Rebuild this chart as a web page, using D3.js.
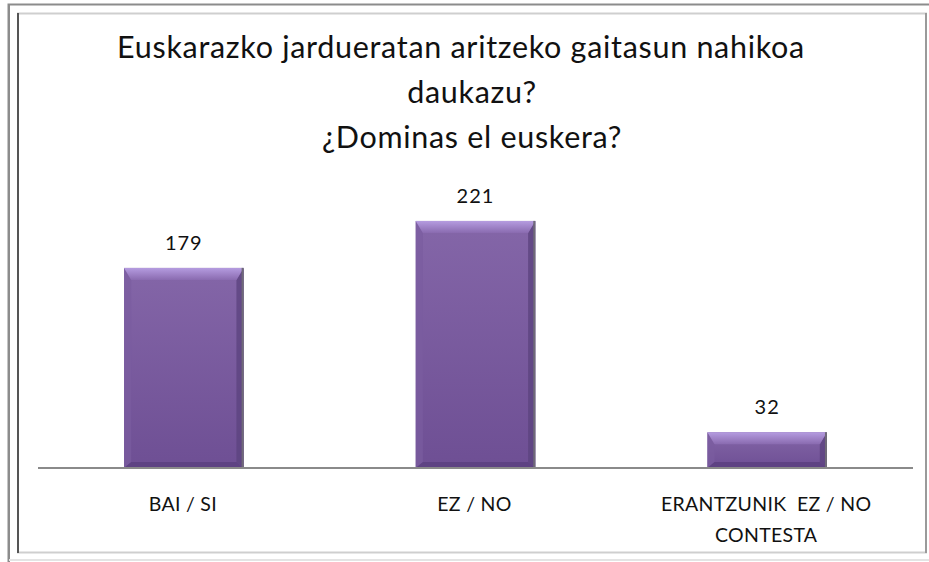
<!DOCTYPE html>
<html><head><meta charset="utf-8">
<script src="https://cdn.jsdelivr.net/npm/d3@7/dist/d3.min.js"></script>
<style>body{margin:0;background:#fff}svg{display:block}</style>
</head><body>
<svg id="c" width="929" height="562"></svg>
<script>
const categories = ["BAI / SI", "EZ / NO", "ERANTZUNIK  EZ / NO|CONTESTA"];
const values = [179, 221, 32];
const titleLines = ["Euskarazko jardueratan aritzeko gaitasun nahikoa", "daukazu?", "¿Dominas el euskera?"];

const svg = d3.select("#c");
const font = "Lato, 'Open Sans', sans-serif";

// frames
svg.append("rect").attr("x",8.5).attr("y",4.5).attr("width",940).attr("height",600).attr("fill","none").attr("stroke","#8c8c8c").attr("stroke-width",2);
svg.append("rect").attr("x",18).attr("y",13.5).attr("width",908).attr("height",539).attr("fill","#fff").attr("stroke","#cfcfcf").attr("stroke-width",2);
svg.append("line").attr("x1",18).attr("x2",18).attr("y1",13).attr("y2",553).attr("stroke","#555").attr("stroke-width",2);
svg.append("line").attr("x1",926).attr("x2",926).attr("y1",13).attr("y2",553).attr("stroke","#9a9a9a").attr("stroke-width",2);
svg.append("line").attr("x1",9).attr("x2",9).attr("y1",4).attr("y2",562).attr("stroke","#8c8c8c").attr("stroke-width",2);
svg.append("line").attr("x1",9).attr("x2",929).attr("y1",560).attr("y2",560).attr("stroke","#e4e4e4").attr("stroke-width",2);

const x = d3.scaleBand().domain(categories).range([38, 913]).paddingInner(0.59).paddingOuter(0.295);
const y = d3.scaleLinear().domain([0, 250]).range([468, 188.5]);

const defs = svg.append("defs");
const g1 = defs.append("linearGradient").attr("id","bar").attr("x1",0).attr("x2",0).attr("y1",0).attr("y2",1);
g1.append("stop").attr("offset","0%").attr("stop-color","#8466a8");
g1.append("stop").attr("offset","100%").attr("stop-color","#6e4f94");
const g2 = defs.append("linearGradient").attr("id","bev").attr("x1",0).attr("x2",0).attr("y1",0).attr("y2",1);
g2.append("stop").attr("offset","0%").attr("stop-color","#b59ce0");
g2.append("stop").attr("offset","100%").attr("stop-color","#8a6bb0");

const bars = svg.append("g").selectAll("g").data(categories).join("g");
bars.each(function(c, i){
  const g = d3.select(this);
  const x0 = x(c), w = x.bandwidth(), y0 = y(values[i]), y1 = y(0), h = y1 - y0;
  const b = Math.min(12, h/3);
  g.append("rect").attr("x",x0).attr("y",y0).attr("width",w).attr("height",h).attr("fill","url(#bar)");
  g.append("path").attr("d",`M${x0},${y0}L${x0+b*0.6},${y0+b}L${x0+b*0.6},${y1-b*0.5}L${x0},${y1}Z`).attr("fill","#7a5c9f").attr("opacity",0.7);
  g.append("path").attr("d",`M${x0+w},${y0}L${x0+w-b*0.6},${y0+b}L${x0+w-b*0.6},${y1-b*0.5}L${x0+w},${y1}Z`).attr("fill","#5d4480").attr("opacity",0.8);
  g.append("path").attr("d",`M${x0},${y1}L${x0+b*0.6},${y1-b*0.5}L${x0+w-b*0.6},${y1-b*0.5}L${x0+w},${y1}Z`).attr("fill","#5a3f7e").attr("opacity",0.8);
  g.append("path").attr("d",`M${x0},${y0}L${x0+w},${y0}L${x0+w-b*0.6},${y0+b}L${x0+b*0.6},${y0+b}Z`).attr("fill","url(#bev)");
  g.append("rect").attr("x",x0+w-2).attr("y",y0).attr("width",2).attr("height",h).attr("fill","#6f6a78");
  g.append("text").attr("x",x0+w/2).attr("y",y0-18).attr("text-anchor","middle")
    .attr("font-family",font).attr("font-size",20).attr("letter-spacing",1).attr("fill","#111").text(values[i]);
});

// axis baseline
svg.append("line").attr("x1",38).attr("x2",913).attr("y1",468).attr("y2",468).attr("stroke","#8a8a8a").attr("stroke-width",2);

// category labels
categories.forEach(c => {
  const lines = c.split("|");
  const t = svg.append("text").attr("text-anchor","middle").attr("font-family",font).attr("font-size",19.5).attr("letter-spacing",0.3).attr("fill","#111");
  lines.forEach((l, j) => t.append("tspan").attr("x", x(c)+x.bandwidth()/2 - 1).attr("y", 511 + j*31).style("white-space","pre").text(l));
});

// title
const titleX = [461, 472, 472];
titleLines.forEach((l, j) => {
  svg.append("text").attr("x",titleX[j]).attr("y",58 + j*45).attr("text-anchor","middle")
    .attr("font-family",font).attr("font-size",30.5).attr("letter-spacing",0.7).attr("fill","#111").text(l);
});
</script>
</body></html>
